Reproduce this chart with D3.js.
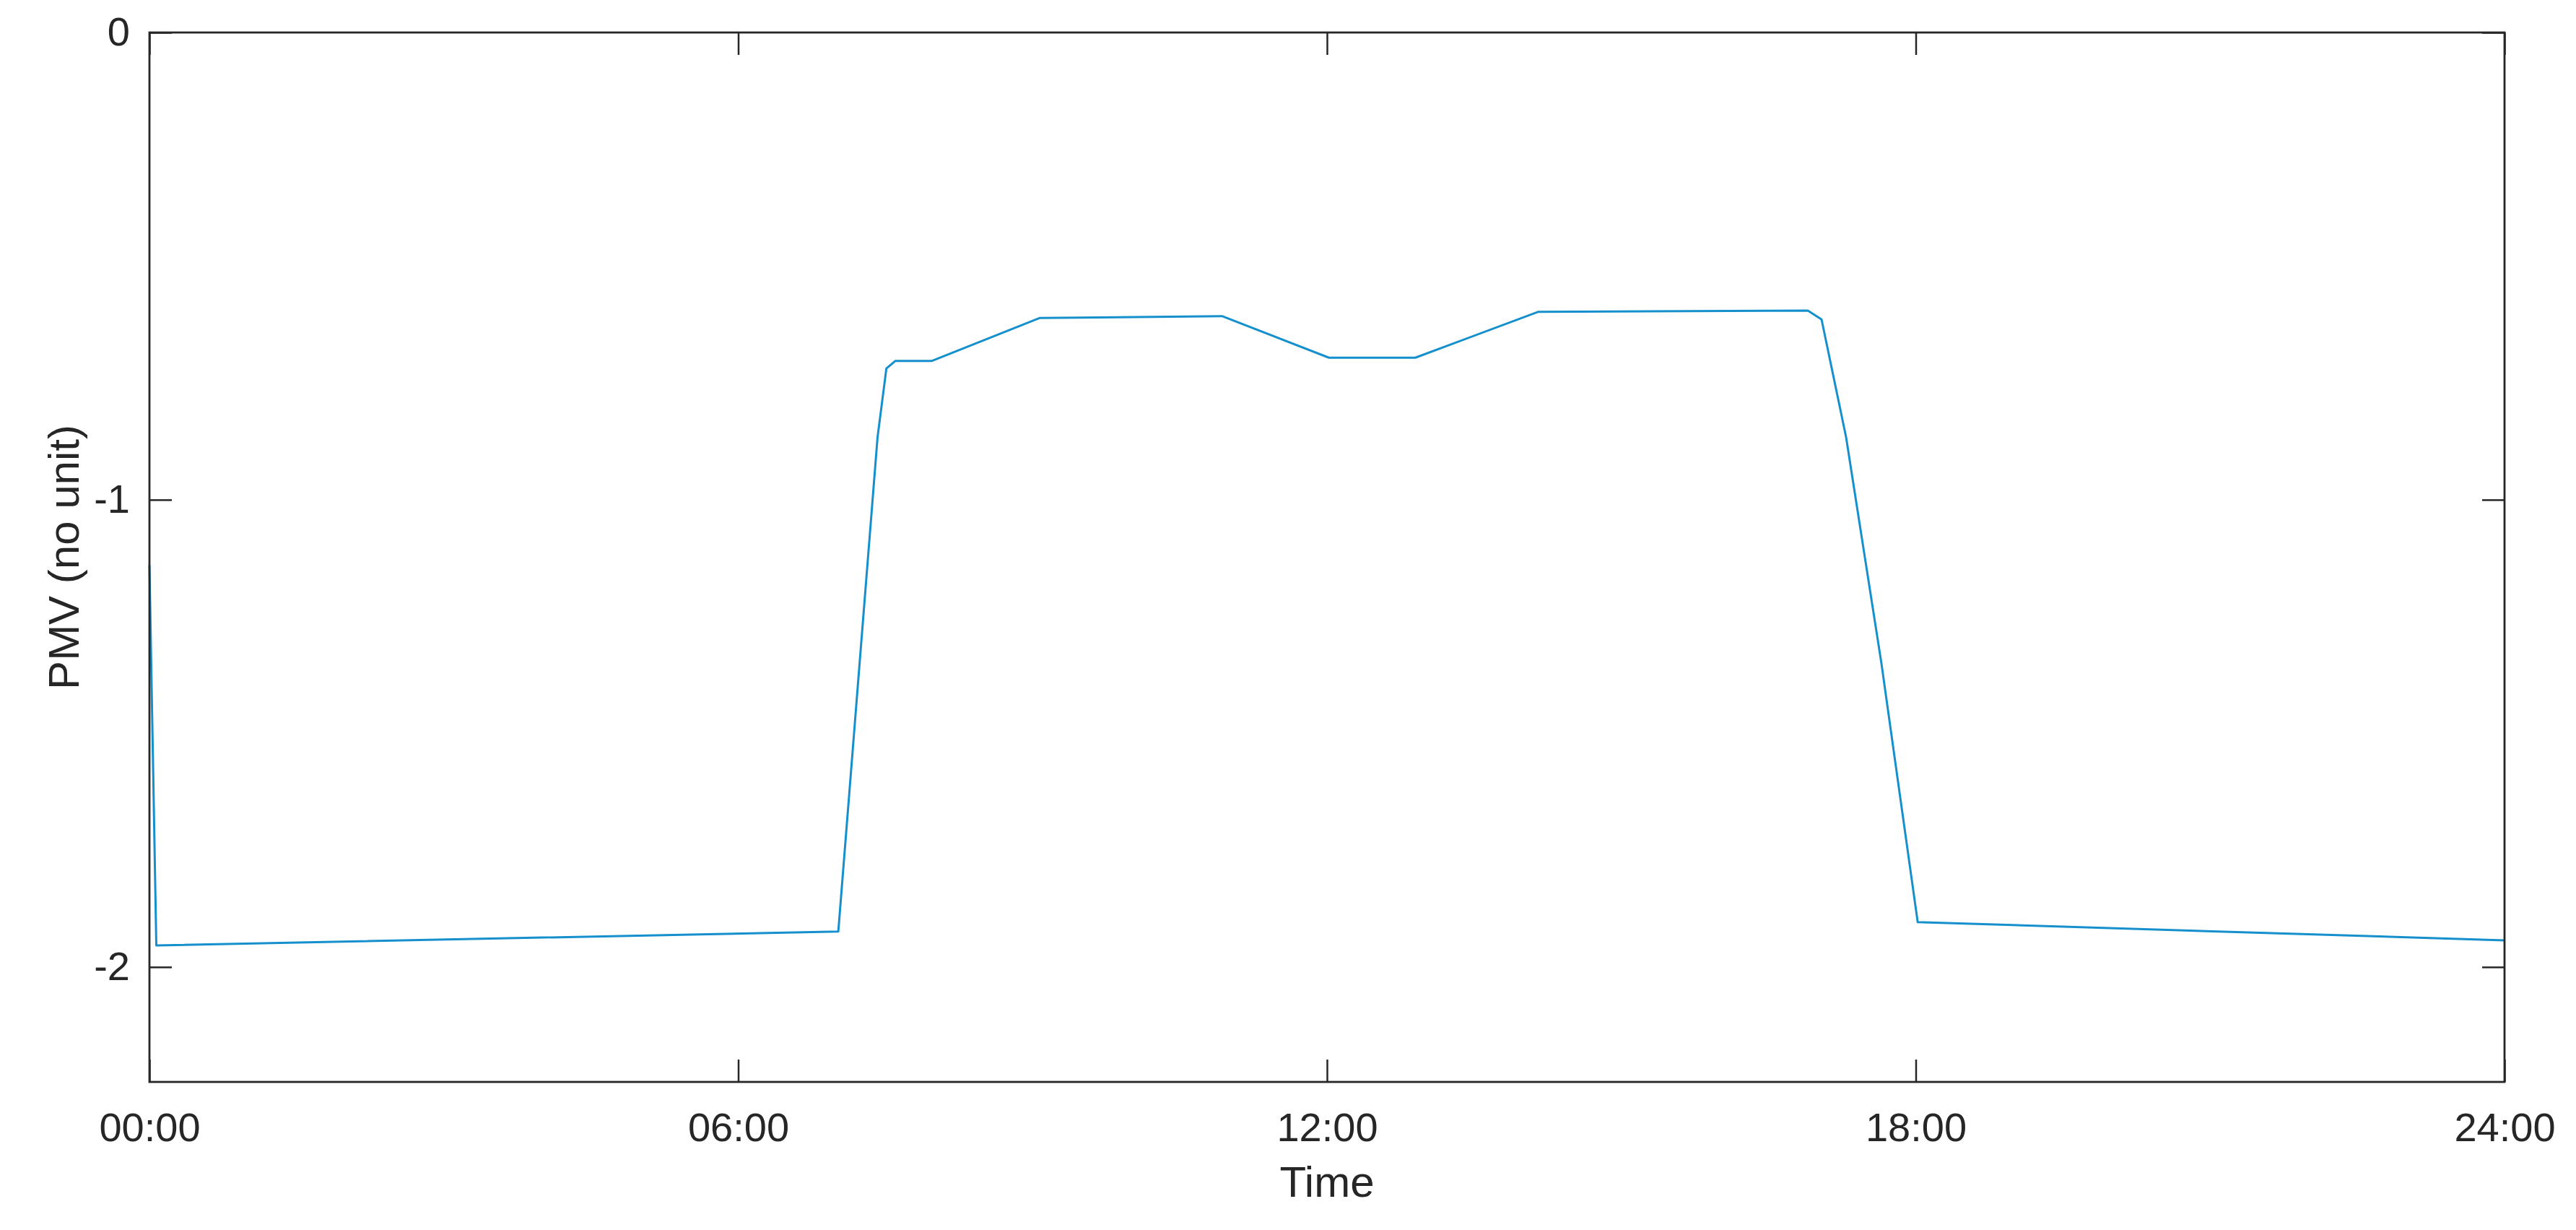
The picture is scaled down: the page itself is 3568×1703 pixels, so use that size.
<!DOCTYPE html>
<html>
<head>
<meta charset="utf-8">
<script src="https://cdn.jsdelivr.net/npm/d3@7"></script>
<style>
  body { margin: 0; background: #fff; }
  svg text { font-family: "Liberation Sans", Arial, sans-serif; fill: #262626; }
</style>
</head>
<body>
<div id="chart"></div>
<script>
// PMV over one day (hours, value)
const hours = [0, 0.07, 7.02, 7.42, 7.51, 7.60, 7.97, 9.07, 10.93, 12.02, 12.90, 14.15, 16.90, 17.04, 17.29, 17.65, 18.02, 24];
const pmv   = [-1.14, -1.954, -1.924, -0.866, -0.719, -0.703, -0.703, -0.611, -0.607, -0.696, -0.696, -0.598, -0.595, -0.614, -0.866, -1.35, -1.904, -1.943];
const xTicks = [0, 6, 12, 18, 24];
const yTicks = [0, -1, -2];
const yLimits = [-2.246, 0];

const margin = {top: 45, right: 99, bottom: 205, left: 207},
    width = 3568 - margin.left - margin.right,
    height = 1703 - margin.top - margin.bottom;

let data = hours.map((h, i) => ({h: h, v: pmv[i]}));

const svg = d3.select("#chart")
    .append("svg")
    .attr("width", width + margin.left + margin.right)
    .attr("height", height + margin.top + margin.bottom)
    .append("g")
    .attr("transform", "translate(" + margin.left + "," + margin.top + ")");

const x = d3.scaleLinear().domain([0, 24]).range([0, width]);
const y = d3.scaleLinear().domain(yLimits).range([height, 0]);

const fmt = d => (d < 10 ? "0" + d : "" + d) + ":00";
const tick = 31;

// bottom axis with labels
const xb = svg.append("g")
    .attr("transform", "translate(0," + height + ")")
    .call(d3.axisBottom(x).tickValues(xTicks).tickFormat(fmt).tickSizeInner(-tick).tickSizeOuter(0).tickPadding(42));
// top axis, ticks only
const xt = svg.append("g")
    .call(d3.axisTop(x).tickValues(xTicks).tickFormat("").tickSizeInner(-tick).tickSizeOuter(0));
// left axis with labels (plain hyphen like the original)
const yl = svg.append("g")
    .call(d3.axisLeft(y).tickValues(yTicks).tickFormat(d => String(d)).tickSizeInner(-tick).tickSizeOuter(0).tickPadding(27));
// right axis, ticks only
const yr = svg.append("g")
    .attr("transform", "translate(" + width + ",0)")
    .call(d3.axisRight(y).tickValues(yTicks).tickFormat("").tickSizeInner(-tick).tickSizeOuter(0));

[xb, xt, yl, yr].forEach(g => {
    g.select(".domain").remove();
    g.selectAll("line").attr("stroke", "#262626").attr("stroke-width", 2.5);
    g.selectAll("text").attr("font-size", 56).attr("fill", "#262626")
        .style("font-family", "'Liberation Sans', Arial, sans-serif");
});

// the line
svg.append("path")
    .datum(data)
    .attr("fill", "none")
    .attr("stroke", "#1590cc")
    .attr("stroke-width", 3)
    .attr("stroke-linejoin", "round")
    .attr("d", d3.line().x(d => x(d.h)).y(d => y(d.v)));

// box
svg.append("rect")
    .attr("x", 0).attr("y", 0)
    .attr("width", width).attr("height", height)
    .attr("fill", "none")
    .attr("stroke", "#262626")
    .attr("stroke-width", 2.8);

// axis titles
svg.append("text")
    .attr("x", width / 2)
    .attr("y", height + 159)
    .attr("text-anchor", "middle")
    .attr("font-size", 60)
    .text("Time");

svg.append("text")
    .attr("transform", "translate(" + (-98) + "," + (height / 2) + ") rotate(-90)")
    .attr("text-anchor", "middle")
    .attr("font-size", 60)
    .text("PMV (no unit)");
</script>
</body>
</html>
